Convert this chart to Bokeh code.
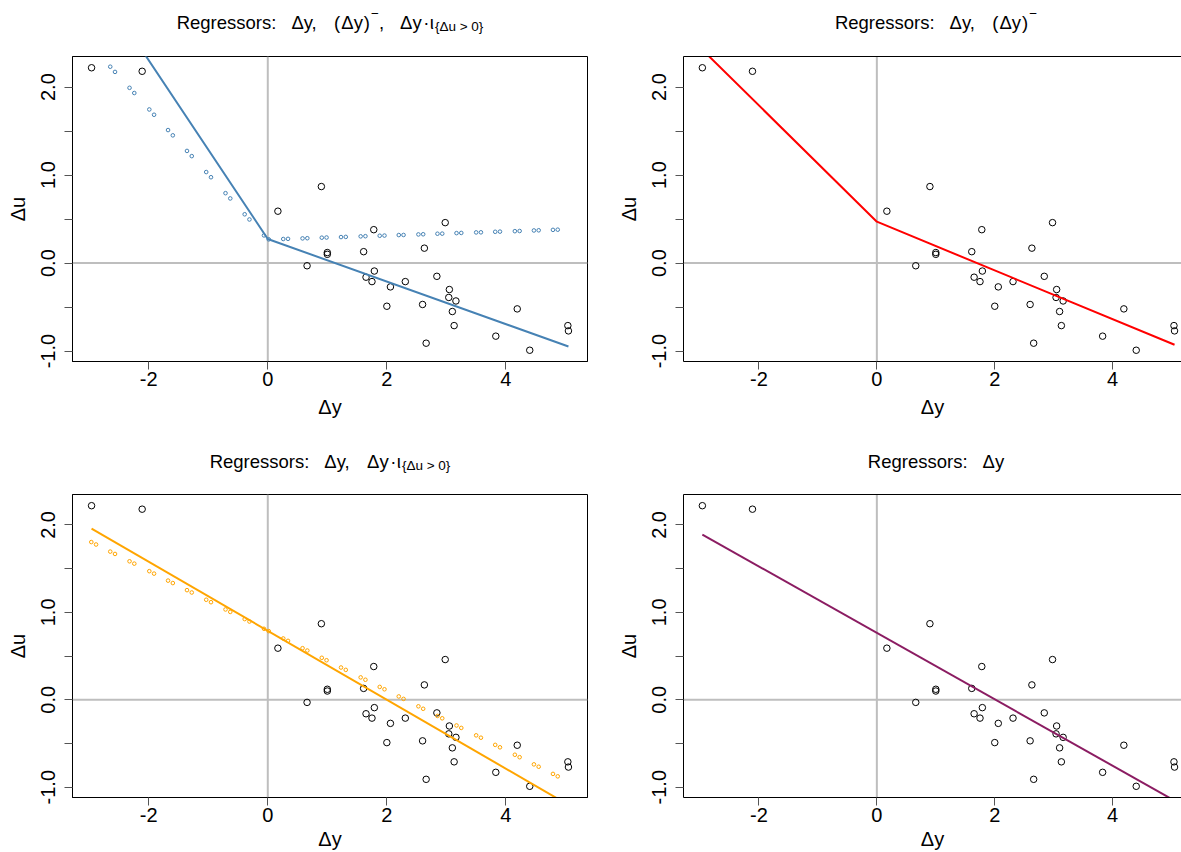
from bokeh.plotting import figure
from bokeh.models import Range1d, FixedTicker, CustomJSTickFormatter, Span, LinearAxis
from bokeh.layouts import column, row
from bokeh.core.properties import value
from bokeh.embed import file_html
from bokeh.resources import INLINE

# ---------------- data ----------------
dy = [-2.96, -2.11, 0.17, 0.90, 1.00, 1.00, 0.66, 1.61, 1.78, 1.79, 1.65, 1.75, 2.06,
      2.31, 2.00, 2.63, 2.84, 2.98, 2.60, 2.66, 3.05, 3.04, 3.16, 3.10, 3.13, 3.83,
      4.19, 4.40, 5.04, 5.05]
du = [2.22, 2.18, 0.59, 0.87, 0.12, 0.10, -0.03, 0.13, 0.38, -0.09, -0.16, -0.21, -0.27,
      -0.21, -0.49, 0.17, -0.15, 0.46, -0.47, -0.91, -0.30, -0.39, -0.43, -0.55, -0.71,
      -0.83, -0.52, -0.99, -0.71, -0.77]

# fitted lines (nodes)
fit1_x = [-2.96, 0.0, 5.05]
fit1_y = [3.28, 0.274, -0.947]
fit2_x = [-2.96, 0.0, 5.05]
fit2_y = [2.425, 0.471, -0.928]
fit3_x = [-2.96, 5.05]
fit3_y = [1.957, -1.203]
fit4_x = [-2.96, 5.05]
fit4_y = [1.890, -1.154]

# small dotted points (top-left: blue, bottom-left: orange)
dot1_x = [-2.646, -2.566, -2.322, -2.242, -1.99, -1.91, -1.675, -1.595, -1.357, -1.277,
          -1.034, -0.954, -0.71, -0.63, -0.388, -0.308, -0.064, 0.016, 0.26, 0.34,
          0.584, 0.664, 0.907, 0.987, 1.23, 1.31, 1.56, 1.64, 1.88, 1.96, 2.2, 2.28,
          2.53, 2.61, 2.85, 2.93, 3.17, 3.25, 3.50, 3.58, 3.82, 3.90, 4.15, 4.23,
          4.47, 4.55, 4.79, 4.87]
dot1_y = [2.232, 2.173, 1.992, 1.933, 1.746, 1.686, 1.512, 1.452, 1.275, 1.216, 1.035,
          0.976, 0.795, 0.735, 0.555, 0.496, 0.315, 0.270, 0.274, 0.276, 0.281, 0.283,
          0.289, 0.291, 0.296, 0.298, 0.304, 0.306, 0.311, 0.313, 0.319, 0.320, 0.326,
          0.328, 0.334, 0.335, 0.341, 0.343, 0.349, 0.350, 0.356, 0.358, 0.363, 0.365,
          0.371, 0.373, 0.378, 0.380]
dot3_x = [-2.964, -2.884, -2.646, -2.566, -2.322, -2.242, -1.99, -1.91, -1.675, -1.595,
          -1.357, -1.277, -1.034, -0.954, -0.71, -0.63, -0.388, -0.308, -0.064, 0.016,
          0.26, 0.34, 0.584, 0.664, 0.907, 0.987, 1.23, 1.31, 1.56, 1.64, 1.88, 1.96,
          2.2, 2.28, 2.53, 2.61, 2.85, 2.93, 3.17, 3.25, 3.50, 3.58, 3.82, 3.90, 4.15,
          4.23, 4.47, 4.55, 4.79, 4.87]
dot3_y = [1.804, 1.776, 1.695, 1.668, 1.584, 1.557, 1.471, 1.443, 1.363, 1.335, 1.254,
          1.227, 1.144, 1.116, 1.033, 1.005, 0.923, 0.895, 0.812, 0.785, 0.701, 0.674,
          0.590, 0.563, 0.480, 0.452, 0.369, 0.342, 0.256, 0.229, 0.147, 0.120, 0.038,
          0.010, -0.075, -0.103, -0.185, -0.212, -0.294, -0.322, -0.407, -0.434, -0.516,
          -0.544, -0.629, -0.657, -0.739, -0.766, -0.848, -0.876]

x_ticks = [-2, 0, 2, 4]
y_ticks = [-1.0, -0.5, 0.0, 0.5, 1.0, 1.5, 2.0]

# ---------------- styling / layout ----------------
FONT = "Liberation Sans"
X0, X1_LEFT, X1_RIGHT = -3.28, 5.37, 5.168
Y0, Y1 = -1.118, 2.348
LEFT_W, RIGHT_W = 614, 567

W = {' ': 278, 'R': 722, 'e': 556, 'g': 556, 'r': 333, 's': 500, 'o': 556, ':': 278,
     'Δ': 667, 'y': 500, ',': 278, '(': 333, ')': 333, '·': 278, 'ι': 222, 'u': 556,
     '>': 584, '0': 556, '{': 334, '}': 334, '−': 584}


def tw(s, size):
    return sum(W.get(c, 556) for c in s) * size / 1000.0


def title_strip(width, height, tokens, cx, base):
    s = figure(width=width, height=height, x_range=Range1d(0, width),
               y_range=Range1d(0, height), min_border=0, min_border_left=0,
               min_border_right=0, min_border_top=0, min_border_bottom=0,
               x_axis_type=None, y_axis_type=None, output_backend="svg",
               toolbar_location=None)
    s.outline_line_color = None
    s.xgrid.visible = False
    s.ygrid.visible = False
    total = sum(tw(t, sz) + gap for t, sz, _, gap in tokens)
    x = cx - total / 2.0
    for t, sz, off, gap in tokens:
        x += gap
        s.text(x=[x], y=[base + off], text=[t], text_font=value(FONT),
               text_font_size=f"{sz}px", text_baseline="alphabetic",
               text_align="left", text_color="black")
        x += tw(t, sz)
    return s


def panel(width, height, bl, bt, bb, br, x_end, right_cut, xlab_standoff):
    p = figure(width=width, height=height, min_border_left=bl, min_border_right=br,
               min_border_top=bt, min_border_bottom=bb,
               x_range=Range1d(X0, x_end), y_range=Range1d(Y0, Y1),
               output_backend="svg", toolbar_location=None)
    p.xgrid.visible = False
    p.ygrid.visible = False
    if right_cut:
        p.outline_line_color = None
        top = LinearAxis(ticker=FixedTicker(ticks=[]), major_label_text_font_size="0px",
                         major_tick_out=0, major_tick_in=0, major_label_standoff=0,
                         axis_line_color="black", axis_line_width=1)
        p.add_layout(top, "above")
    else:
        p.outline_line_color = "black"
        p.outline_line_width = 1

    xa = p.below[0]
    ya = p.left[0]
    xa.ticker = FixedTicker(ticks=x_ticks)
    ya.ticker = FixedTicker(ticks=y_ticks)
    ya.formatter = CustomJSTickFormatter(
        code="return Math.abs(tick - Math.round(tick)) < 1e-6 ? tick.toFixed(1) : '';")
    xa.formatter = CustomJSTickFormatter(code="return tick.toFixed(0);")
    ya.major_label_orientation = "vertical"
    ya.axis_label = "Δu"
    ya.axis_label_standoff = 10
    ya.major_label_standoff = 9
    xa.axis_label = "Δy"
    xa.axis_label_standoff = xlab_standoff
    xa.major_label_standoff = 2
    for a in (xa, ya):
        a.axis_line_color = "black"
        a.major_tick_line_color = "#555555"
        a.major_tick_in = 0
        a.major_tick_out = 8
        a.minor_tick_line_color = None
        a.major_label_text_font = FONT
        a.major_label_text_font_size = "20px"
        a.major_label_text_color = "black"
        a.axis_label_text_font = FONT
        a.axis_label_text_font_size = "20px"
        a.axis_label_text_font_style = "normal"
        a.axis_label_text_color = "black"

    p.add_layout(Span(location=0, dimension="height", line_color="#BEBEBE",
                      line_width=2, level="underlay"))
    p.add_layout(Span(location=0, dimension="width", line_color="#BEBEBE",
                      line_width=2, level="underlay"))
    return p


T = 18.5
S = 13.5
# (text, size, baseline offset, gap before)
tok_tl = [("Regressors:", T, 0, 0), ("Δy,", T, 0, 15), ("(", T, 0, 16), ("Δy", T, 0, 1),
          (")", T, 0, 1), ("−", S, 9, 1), (",", T, 0, 0), ("Δy", T, 0, 16),
          ("·", T, 0, 1.5), ("ι", T, 0, 1.5), ("{Δu > 0}", S, -4, 1)]
tok_tr = [("Regressors:", T, 0, 0), ("Δy,", T, 0, 15), ("(", T, 0, 16), ("Δy", T, 0, 1),
          (")", T, 0, 1), ("−", S, 9, 1)]
tok_bl = [("Regressors:", T, 0, 0), ("Δy,", T, 0, 15), ("Δy", T, 0, 16),
          ("·", T, 0, 1.5), ("ι", T, 0, 1.5), ("{Δu > 0}", S, -4, 1)]
tok_br = [("Regressors:", T, 0, 0), ("Δy", T, 0, 15)]

t1 = title_strip(LEFT_W, 50, tok_tl, 329.5, 28)
t2 = title_strip(RIGHT_W, 50, tok_tr, 321.5, 28)
t3 = title_strip(LEFT_W, 56, tok_bl, 329.5, 27)
t4 = title_strip(RIGHT_W, 56, tok_br, 321.5, 27)

# panels: top row frame 56..361, bottom row frame 494..798
p1 = panel(LEFT_W, 382, 72, 6, 71, 27, X1_LEFT, False, 7)
p2 = panel(RIGHT_W, 382, 64, 6, 71, 0, X1_RIGHT, True, 7)
p3 = panel(LEFT_W, 364, 72, 6, 54, 27, X1_LEFT, False, 3)
p4 = panel(RIGHT_W, 364, 64, 6, 54, 0, X1_RIGHT, True, 3)

# marks
for p in (p1, p2, p3, p4):
    p.scatter(dy, du, marker="circle", size=6.5, fill_color=None, line_color="black",
              line_width=1)

p1.scatter(dot1_x, dot1_y, marker="circle", size=3.6, fill_color=None,
           line_color="#4682B4", line_width=1)
p1.line(fit1_x, fit1_y, line_color="#4682B4", line_width=2)

p2.line(fit2_x, fit2_y, line_color="#FF0000", line_width=2)

p3.scatter(dot3_x, dot3_y, marker="circle", size=3.6, fill_color=None,
           line_color="#FFA500", line_width=1)
p3.line(fit3_x, fit3_y, line_color="#FFA500", line_width=2)

p4.line(fit4_x, fit4_y, line_color="#8B1C62", line_width=2)

layout = column(row(t1, t2), row(p1, p2), row(t3, t4), row(p3, p4))

open("out.html", "w").write(file_html(layout, INLINE))
